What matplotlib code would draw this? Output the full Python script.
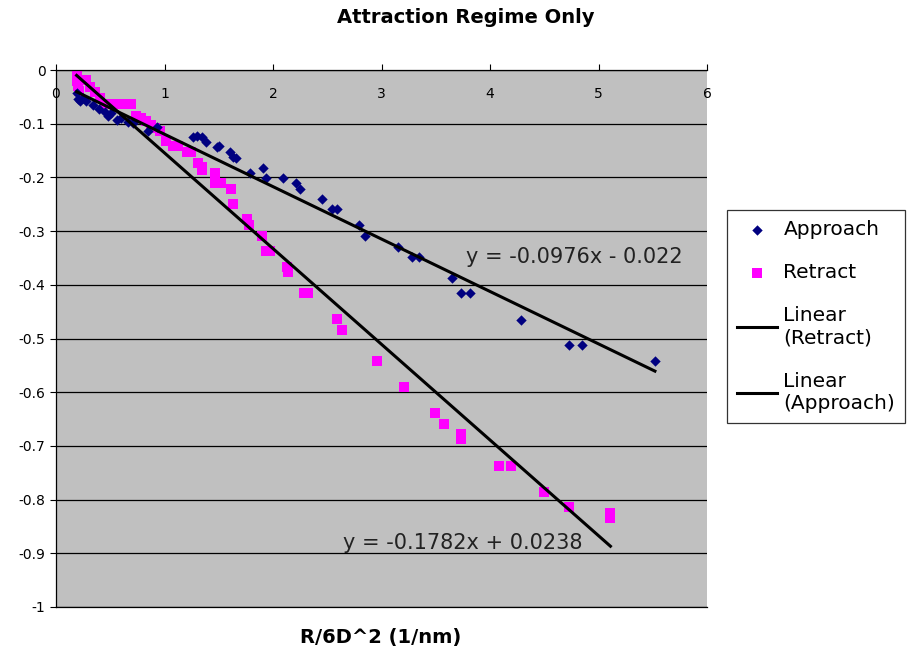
import numpy as np
import matplotlib
matplotlib.use('Agg')
import matplotlib.pyplot as plt

# approach curve (navy diamonds)
approach_x = [0.19, 0.20, 0.22, 0.25, 0.28, 0.34, 0.40, 0.45, 0.48, 0.51, 0.56,
              0.60, 0.66, 0.71, 0.85, 0.93,
              1.26, 1.30, 1.35, 1.38, 1.48, 1.50, 1.60, 1.63, 1.66, 1.79, 1.91,
              1.94, 2.09, 2.21, 2.25, 2.45, 2.54, 2.59, 2.79, 2.85, 3.15, 3.28,
              3.35, 3.65, 3.73, 3.82, 4.29, 4.73, 4.85, 5.52]
approach_y = [-0.043, -0.054, -0.058, -0.052, -0.058, -0.065, -0.072, -0.078,
              -0.086, -0.080, -0.093, -0.089, -0.097, -0.099, -0.114, -0.106,
              -0.125, -0.123, -0.125, -0.134, -0.143, -0.142, -0.153, -0.162,
              -0.164, -0.192, -0.182, -0.201, -0.201, -0.210, -0.222, -0.240,
              -0.259, -0.259, -0.289, -0.309, -0.330, -0.348, -0.348, -0.387,
              -0.415, -0.415, -0.466, -0.512, -0.512, -0.542]

# retract curve (magenta squares)
retract_x = [0.19, 0.19, 0.20, 0.21, 0.28, 0.31, 0.36, 0.41, 0.45, 0.52, 0.58,
             0.65, 0.69, 0.74, 0.78, 0.83, 0.88, 0.91, 0.96, 1.01, 1.08, 1.12,
             1.21, 1.24, 1.31, 1.35, 1.35, 1.47, 1.47, 1.52, 1.61, 1.63, 1.76,
             1.78, 1.90, 1.94, 1.97, 2.13, 2.14, 2.29, 2.32, 2.59, 2.64, 2.96,
             3.21, 3.49, 3.58, 3.73, 3.73, 4.08, 4.19, 4.50, 4.73, 5.11, 5.11]
retract_y = [-0.011, -0.020, -0.030, -0.039, -0.019, -0.032, -0.041, -0.052,
             -0.063, -0.063, -0.063, -0.063, -0.063, -0.086, -0.089, -0.095,
             -0.102, -0.108, -0.114, -0.132, -0.142, -0.142, -0.153, -0.153,
             -0.173, -0.186, -0.181, -0.192, -0.210, -0.210, -0.222, -0.250,
             -0.277, -0.289, -0.309, -0.337, -0.337, -0.367, -0.376, -0.415,
             -0.415, -0.464, -0.484, -0.542, -0.590, -0.639, -0.659, -0.678,
             -0.687, -0.737, -0.737, -0.786, -0.814, -0.825, -0.834]

# linear trendlines as given on the chart
approach_fit = (-0.0976, -0.022)
retract_fit = (-0.1782, 0.0238)

x_ticks = [0, 1, 2, 3, 4, 5, 6]
y_ticks = [0, -0.1, -0.2, -0.3, -0.4, -0.5, -0.6, -0.7, -0.8, -0.9, -1]
y_tick_labels = ['0', '-0.1', '-0.2', '-0.3', '-0.4', '-0.5', '-0.6', '-0.7',
                 '-0.8', '-0.9', '-1']

plt.rcParams['font.family'] = ['DejaVu Sans']

fig = plt.figure(figsize=(9.07, 6.51), dpi=100)
ax = fig.add_axes([56 / 907, 1 - 607 / 651, 651 / 907, 537 / 651])
ax.set_facecolor('#C0C0C0')

ax.scatter(approach_x, approach_y, marker='D', s=28, color='#000080',
           linewidths=0, zorder=3, label='Approach')
ax.scatter(retract_x, retract_y, marker='s', s=45, color='#FF00FF',
           linewidths=0, zorder=2, label='Retract')

rx = np.array([min(retract_x), max(retract_x)])
ax.plot(rx, retract_fit[0] * rx + retract_fit[1], color='black', lw=2.2,
        zorder=4, label='Linear\n(Retract)')
axx = np.array([min(approach_x), max(approach_x)])
ax.plot(axx, approach_fit[0] * axx + approach_fit[1], color='black', lw=2.2,
        zorder=4, label='Linear\n(Approach)')

ax.text(3.78, -0.348, 'y = -0.0976x - 0.022', fontsize=15, va='center',
        color='#222222')
ax.text(2.645, -0.881, 'y = -0.1782x + 0.0238', fontsize=15, va='center',
        color='#222222')

ax.set_xlim(0, 6)
ax.set_ylim(-1, 0)
ax.set_xticks(x_ticks)
ax.set_yticks(y_ticks)
ax.set_yticklabels(y_tick_labels)
ax.yaxis.grid(True, color='black', lw=0.9)
ax.set_axisbelow(True)

ax.xaxis.tick_top()
ax.tick_params(axis='x', top=True, bottom=False, labeltop=True,
               labelbottom=False, direction='out', length=4, pad=-26,
               labelsize=10, colors='black')
ax.tick_params(axis='y', direction='out', length=4, labelsize=10)
for t in ax.get_xticklabels():
    t.set_verticalalignment('bottom')

ax.spines['right'].set_visible(False)
for s in ['top', 'left', 'bottom']:
    ax.spines[s].set_color('black')
    ax.spines[s].set_linewidth(0.9)

fig.text(0.514, 0.973, 'Attraction Regime Only', ha='center', va='center',
         fontsize=14, fontweight='bold')
fig.text(381 / 907, 1 - 637 / 651, 'R/6D^2 (1/nm)', ha='center',
         va='center', fontsize=14, fontweight='bold')

leg = fig.legend(loc='upper left', bbox_to_anchor=(727 / 907, 1 - 210 / 651),
                 frameon=True, fancybox=False, edgecolor='black',
                 facecolor='white', fontsize=14.5, labelspacing=1.2,
                 handlelength=2.0, handletextpad=0.3, borderpad=0.5,
                 borderaxespad=0, scatterpoints=1)
leg.get_frame().set_linewidth(0.9)

fig.savefig('out.png', dpi=100)
